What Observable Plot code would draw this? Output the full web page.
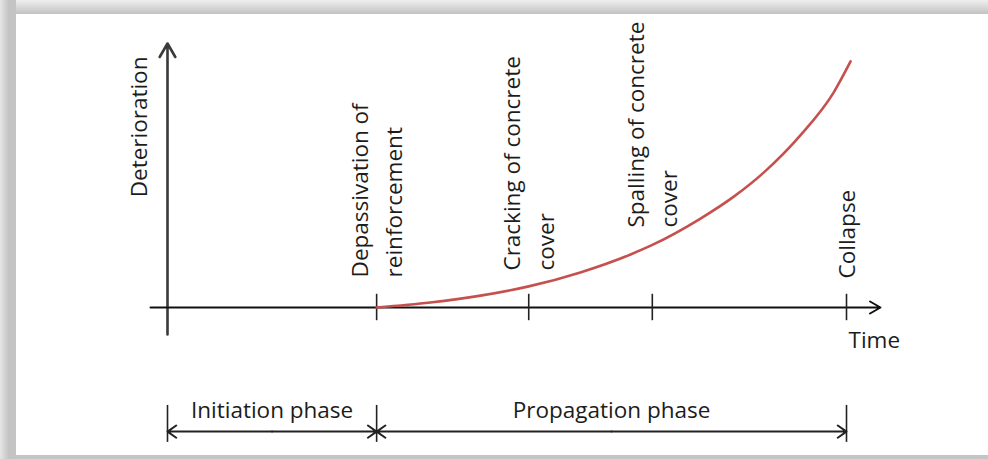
<!DOCTYPE html>
<html><head><meta charset="utf-8">
<script src="https://cdn.jsdelivr.net/npm/d3@7"></script>
<script src="https://cdn.jsdelivr.net/npm/@observablehq/plot@0.6"></script>
<style>
html,body{margin:0;padding:0}
body{width:988px;height:459px;position:relative;overflow:hidden;background:#c5c5c5;font-family:"Open Sans",sans-serif}
#top{position:absolute;left:0;top:0;width:988px;height:14px;background:linear-gradient(#efefef,#c2c2c2)}
#left{position:absolute;left:0;top:0;width:16px;height:459px;background:linear-gradient(to right,#e6e6e6,#c4c4c4 55%)}
#panel{position:absolute;left:16px;top:14px;width:972px;height:441px;background:#fff}
#chart{position:absolute;left:0;top:0}
</style></head><body>
<div id="top"></div><div id="left"></div><div id="panel"></div><div id="chart"></div>
<script>
// Milestones along the time axis
const milestoneLabels = ["Depassivation of\nreinforcement", "Cracking of concrete\ncover", "Spalling of concrete\ncover", "Collapse"];
const milestoneTimes = [3.08, 5.32, 7.14, 10];
const milestoneLabelLevel = [1.14, 1.40, 3.03, 1.10];

// Deterioration curve
const curveTime = [3.08, 3.87, 4.61, 5.32, 6.08, 6.82, 7.14, 7.85, 8.34, 8.78, 9.32, 9.81, 10.06];
const curveDeterioration = [0, 0.19, 0.45, 0.80, 1.33, 2.01, 2.37, 3.37, 4.20, 5.11, 6.52, 8.14, 9.32];

// Phases
const phaseNames = ["Initiation phase", "Propagation phase"];
const phaseStart = [0, 3.08];
const phaseEnd = [3.08, 10];

// Axis titles
const yTitle = "Deterioration";
const xTitle = "Time";

// Layout levels (in y units) for the phase row beneath the axis
const phaseRow = -4.7, phaseBarTop = -3.71, phaseBarBottom = -5.11, phaseLabelLevel = -3.91;

const curve = curveTime.map((t, i) => ({t, d: curveDeterioration[i]}));
const milestones = milestoneTimes.map((t, i) => ({t, label: milestoneLabels[i], level: milestoneLabelLevel[i]}));
const phases = phaseNames.map((name, i) => ({name, s: phaseStart[i], e: phaseEnd[i], mid: (phaseStart[i] + phaseEnd[i]) / 2}));
const phaseArrows = phases.flatMap(p => [{x1: p.mid, x2: p.s}, {x1: p.mid, x2: p.e}]);
const phaseBounds = Array.from(new Set(phases.flatMap(p => [p.s, p.e])));

const font = "Open Sans";
const fs = 22.5;
const ink = "#1c1c1c";

const chart = Plot.plot({
  width: 988,
  height: 459,
  margin: 0,
  style: {background: "transparent", overflow: "visible"},
  x: {domain: [0, 10], range: [167, 846], axis: null},
  y: {domain: [0, 10], range: [307, 43], axis: null},
  marks: [
    // y axis with arrow
    Plot.arrow([0], {x1: 0, x2: 0, y1: -1.02, y2: 10, stroke: "#3a3a3a", strokeWidth: 2.6, headLength: 9, headAngle: 60}),
    // x axis with arrow
    Plot.arrow([0], {x1: -0.25, x2: 10.5, y1: 0, y2: 0, stroke: "#111", strokeWidth: 2, headLength: 9, headAngle: 60}),
    // milestone ticks
    Plot.ruleX(milestoneTimes, {x: d => d, y1: -0.5, y2: 0.5, stroke: "#222", strokeWidth: 1.6}),
    // deterioration curve
    Plot.line(curve, {x: "t", y: "d", stroke: "#c5504e", strokeWidth: 2.6, curve: "monotone-x"}),
    // milestone labels
    Plot.text(milestones, {x: "t", y: "level", text: "label", rotate: -90, textAnchor: "start", lineAnchor: "middle", lineHeight: 1.5, dx: -2.5, fontSize: fs, fontFamily: font, fill: ink}),
    // axis titles
    Plot.text([yTitle], {x: -0.415, y: 6.84, text: d => d, rotate: -90, textAnchor: "middle", lineAnchor: "middle", fontSize: fs, fontFamily: font, fill: ink}),
    Plot.text([xTitle], {x: 10.03, y: -1.28, text: d => d, textAnchor: "start", lineAnchor: "middle", fontSize: fs, fontFamily: font, fill: ink}),
    // phase bounds
    Plot.ruleX(phaseBounds, {x: d => d, y1: phaseBarTop, y2: phaseBarBottom, stroke: "#222", strokeWidth: 1.6}),
    // phase arrows
    Plot.arrow(phaseArrows, {x1: "x1", x2: "x2", y1: phaseRow, y2: phaseRow, stroke: "#222", strokeWidth: 2, headLength: 8, headAngle: 70}),
    // phase labels
    Plot.text(phases, {x: "mid", y: phaseLabelLevel, text: "name", textAnchor: "middle", lineAnchor: "middle", fontSize: fs, fontFamily: font, fill: ink})
  ]
});
document.getElementById("chart").appendChild(chart);
</script>
</body></html>
